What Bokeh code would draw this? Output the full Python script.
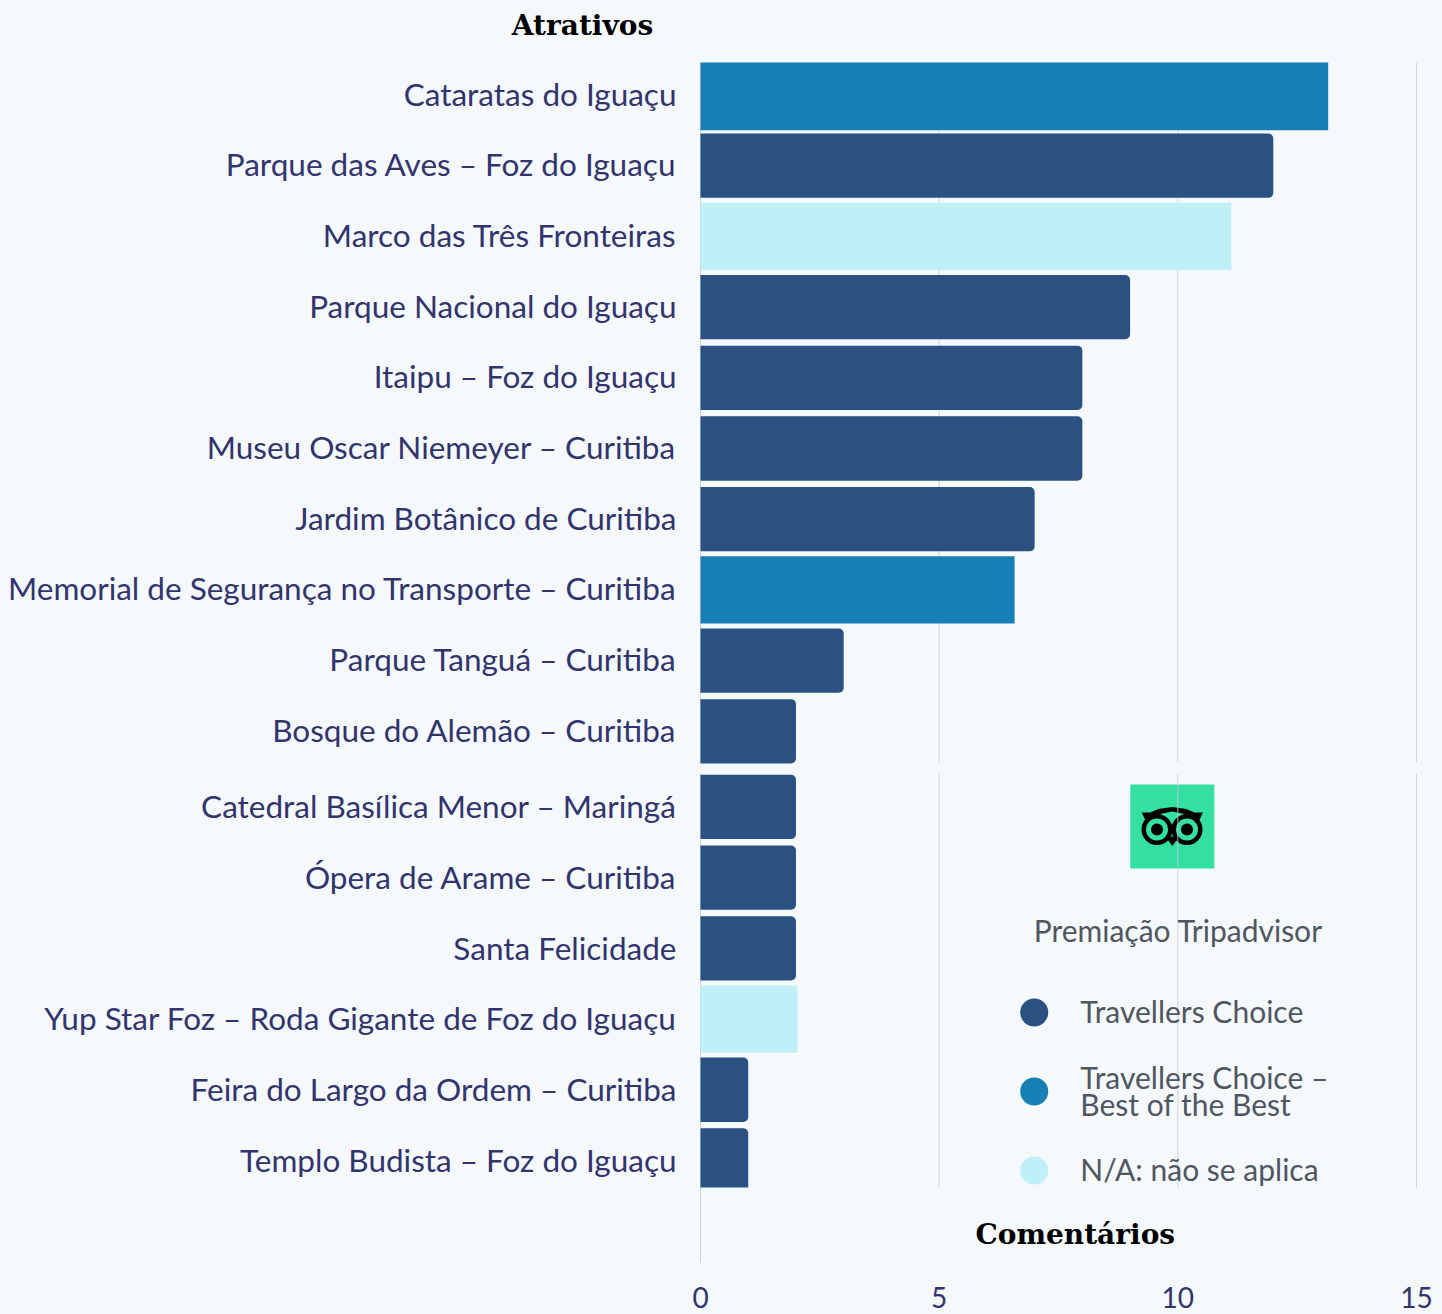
from bokeh.plotting import figure
from bokeh.layouts import column
from bokeh.models import Range1d, FixedTicker, Label, ColumnDataSource
from bokeh.embed import file_html
from bokeh.resources import INLINE

attractions = ["Cataratas do Iguaçu", "Parque das Aves – Foz do Iguaçu", "Marco das Três Fronteiras",
               "Parque Nacional do Iguaçu", "Itaipu – Foz do Iguaçu", "Museu Oscar Niemeyer – Curitiba",
               "Jardim Botânico de Curitiba", "Memorial de Segurança no Transporte – Curitiba",
               "Parque Tanguá – Curitiba", "Bosque do Alemão – Curitiba", "Catedral Basílica Menor – Maringá",
               "Ópera de Arame – Curitiba", "Santa Felicidade", "Yup Star Foz – Roda Gigante de Foz do Iguaçu",
               "Feira do Largo da Ordem – Curitiba", "Templo Budista – Foz do Iguaçu"]
comments = [13.15, 12, 11.12, 9, 8, 8, 7, 6.58, 3, 2, 2, 2, 2, 2.03, 1, 1]
awards = ["best", "tc", "na", "tc", "tc", "tc", "tc", "best", "tc", "tc", "tc", "tc", "tc", "na", "tc", "tc"]
x_ticks = [0, 5, 10, 15]
legend_names = ["Travellers Choice", "Travellers Choice –", "Best of the Best", "N/A: não se aplica"]

DARK, TEAL, PALE, BG = "#2b5082", "#167fb4", "#bff0f7", "#f5f9fc"
GREEN = "#34e0a1"
LABEL = "#32346e"
GREY = "#4f5662"
FONT = "Lato"
SERIF = "DejaVu Serif"

# row positions in hundredths of a row; the table breaks after the tenth row
rows = [i * 100 + (7 if i >= 10 else 0) for i in range(len(attractions))]
PX_X = 47.7
PX_Y = 0.707
X0, Y0 = 700.5, 94.5
FRAME_TOP, TABLE_BOTTOM, FRAME_BOTTOM = 62, 1187, 1262
W, H = 1442, 1314


def dx(sx):
    return (sx - X0) / PX_X


def dy(sy):
    return (sy - Y0) / PX_Y


header = figure(width=W, height=FRAME_TOP, output_backend="svg", toolbar_location=None,
                x_range=Range1d(0, W), y_range=Range1d(FRAME_TOP, 0), min_border=0,
                background_fill_color=BG, border_fill_color=BG, outline_line_color=None)
header.frame_align = False
header.axis.visible = False
header.grid.visible = False
header.add_layout(Label(x=582, y=25, text="Atrativos", text_color="#000000", text_font_size="28px",
                        text_font=SERIF, text_font_style="bold", text_align="center", text_baseline="middle"))

p = figure(width=W, height=H - FRAME_TOP, output_backend="svg", toolbar_location=None,
           x_range=Range1d(dx(699.5), dx(W)), y_range=Range1d(dy(FRAME_BOTTOM), dy(FRAME_TOP)),
           min_border_left=699, min_border_right=0, min_border_top=0,
           min_border_bottom=H - FRAME_BOTTOM,
           background_fill_color=BG, border_fill_color=BG, outline_line_color=None)
p.frame_align = False
p.grid.visible = False

tick_rows = [r - 2 if r < 1000 else r - 1 for r in rows]
yax = p.yaxis[0]
yax.ticker = FixedTicker(ticks=tick_rows)
yax.major_label_overrides = dict(zip(tick_rows, attractions))
yax.axis_line_color = None
yax.major_tick_line_color = None
yax.minor_tick_line_color = None
yax.major_label_text_font = FONT
yax.major_label_text_font_size = "31.5px"
yax.major_label_text_color = LABEL
yax.major_label_standoff = 17

xa = p.xaxis[0]
xa.ticker = FixedTicker(ticks=x_ticks)
xa.axis_line_color = None
xa.major_tick_line_color = None
xa.minor_tick_line_color = None
xa.major_label_text_font = FONT
xa.major_label_text_font_size = "28px"
xa.major_label_text_color = LABEL
xa.major_label_standoff = 18

# logo under the grid lines
p.rect(x=[dx(1172)], y=[dy(826)], width=84 / PX_X, height=84 / PX_Y, fill_color=GREEN, line_color=None)
p.patch(x=[dx(v) for v in (1141.5, 1150, 1158, 1172, 1186, 1194, 1202.5, 1198, 1146)],
        y=[dy(v) for v in (812, 812, 808.5, 806.5, 808.5, 812, 812, 822, 822)],
        fill_color="#000000", line_color=None)
p.patch(x=[dx(v) for v in (1160, 1172, 1184, 1172)], y=[dy(v) for v in (813.5, 811, 813.5, 830)],
        fill_color=GREEN, line_color=None)
eye_x = [dx(1156.7), dx(1186.7)]
eye_y = [dy(829), dy(829)]
p.patch(x=[dx(v) for v in (1165, 1172, 1179)], y=[dy(v) for v in (836, 845.5, 836)],
        fill_color="#000000", line_color=None)
p.scatter(x=eye_x, y=eye_y, size=31, fill_color="#000000", line_color=None)
p.scatter(x=eye_x, y=eye_y, size=22, fill_color=GREEN, line_color=None)
p.scatter(x=eye_x, y=eye_y, size=12, fill_color="#000000", line_color=None)

# grid, broken where the table breaks
for xv in x_ticks:
    y0 = [dy(FRAME_TOP), dy(773)]
    y1 = [dy(762), dy(FRAME_BOTTOM if xv == 0 else TABLE_BOTTOM)]
    p.segment(x0=[xv, xv], x1=[xv, xv], y0=y0, y1=y1, line_color="#c6cbde", line_alpha=0.85, line_width=1)


def bars(indices, color, thick, radius, clip_last=False):
    src = ColumnDataSource(dict(
        top=[rows[i] - thick / 2 for i in indices],
        bottom=[min(rows[i] + thick / 2, dy(TABLE_BOTTOM)) if clip_last else rows[i] + thick / 2 for i in indices],
        right=[comments[i] for i in indices]))
    p.quad(left=0, right="right", top="top", bottom="bottom", source=src, fill_color=color, line_color=None,
           border_radius=radius)


last = len(rows) - 1
dark = [i for i, a in enumerate(awards) if a == "tc" and i != last]
bars(dark, DARK, 91, (0, 5, 5, 0))
bars([last], DARK, 91, (0, 5, 0, 0), clip_last=True)
bars([0], TEAL, 100, 0)
bars([7], TEAL, 95, 0)
bars([i for i, a in enumerate(awards) if a == "na"], PALE, 95, 0)


def label(text, sx, sy, color=GREY, size="30px", font=FONT, style="normal", align="left"):
    p.add_layout(Label(x=dx(sx), y=dy(sy), text=text, text_color=color, text_font_size=size,
                       text_font=font, text_font_style=style, text_align=align, text_baseline="middle"))


label("Premiação Tripadvisor", 1178, 929, align="center")
for n, sy in zip(legend_names, [1010, 1076, 1103, 1168]):
    label(n, 1080, sy)
p.scatter(x=[dx(1034)] * 3, y=[dy(1012), dy(1091), dy(1170)], size=28,
          fill_color=[DARK, TEAL, PALE], line_color=None)

label("Comentários", 1075, 1234, "#000000", "28px", SERIF, "bold", "center")

html = file_html(column(header, p, spacing=0), INLINE)
html = html.replace("</head>", "<style>html,body{margin:0;padding:0;background:#f5f9fc}</style></head>", 1)
open("out.html", "w").write(html)
